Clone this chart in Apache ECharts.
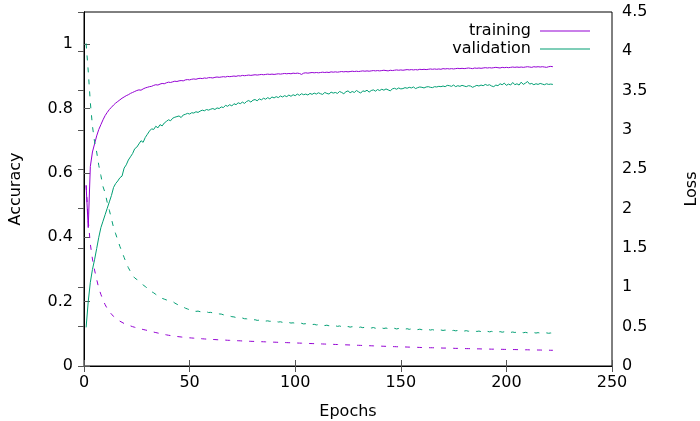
<!DOCTYPE html>
<html>
<head>
<meta charset="utf-8">
<script src="https://cdn.jsdelivr.net/npm/echarts@6/dist/echarts.min.js"></script>
<style>
  html, body { margin: 0; padding: 0; background: #fff; }
  #ch1 { width: 700px; height: 421px; }
</style>
</head>
<body>
<div id="ch1"></div>
<script>
var xTicks = [0, 50, 100, 150, 200, 250];
var accTicks = [0, 0.2, 0.4, 0.6, 0.8, 1];
var lossTicks = [0, 0.5, 1, 1.5, 2, 2.5, 3, 3.5, 4, 4.5];

// accuracy per epoch (epoch 1..222)
var trainAcc = [
  0.56, 0.43, 0.62, 0.665, 0.69, 0.715, 0.735, 0.75, 0.765, 0.778,
  0.788, 0.797, 0.804, 0.811, 0.817, 0.822, 0.827, 0.832, 0.836, 0.840,
  0.843, 0.847, 0.850, 0.853, 0.856, 0.858, 0.857, 0.861, 0.864, 0.866,
  0.868, 0.869, 0.872, 0.874, 0.873, 0.876, 0.878, 0.877, 0.880, 0.882,
  0.881, 0.883, 0.885, 0.884, 0.886, 0.887, 0.886, 0.889, 0.890, 0.889,
  0.891, 0.892, 0.891, 0.893, 0.894, 0.893, 0.895, 0.894, 0.896, 0.896,
  0.895, 0.897, 0.898, 0.897, 0.898, 0.899, 0.898, 0.900, 0.899, 0.900,
  0.901, 0.900, 0.902, 0.901, 0.903, 0.902, 0.903, 0.904, 0.903, 0.904,
  0.905, 0.904, 0.905, 0.906, 0.905, 0.906, 0.907, 0.906, 0.907, 0.906,
  0.907, 0.908, 0.907, 0.908, 0.909, 0.908, 0.909, 0.908, 0.910, 0.909,
  0.910, 0.909, 0.906, 0.910, 0.911, 0.910, 0.911, 0.912, 0.911, 0.912,
  0.911, 0.912, 0.913, 0.912, 0.913, 0.912, 0.914, 0.913, 0.914, 0.913,
  0.914, 0.915, 0.914, 0.915, 0.914, 0.915, 0.916, 0.915, 0.916, 0.915,
  0.916, 0.917, 0.916, 0.917, 0.916, 0.917, 0.918, 0.917, 0.918, 0.917,
  0.918, 0.919, 0.918, 0.917, 0.919, 0.918, 0.919, 0.920, 0.919, 0.920,
  0.919, 0.920, 0.921, 0.920, 0.921, 0.920, 0.921, 0.920, 0.922, 0.921,
  0.922, 0.921, 0.922, 0.923, 0.922, 0.923, 0.922, 0.923, 0.922, 0.924,
  0.923, 0.924, 0.923, 0.924, 0.923, 0.924, 0.925, 0.924, 0.925, 0.924,
  0.925, 0.926, 0.925, 0.924, 0.926, 0.925, 0.926, 0.925, 0.926, 0.927,
  0.926, 0.927, 0.926, 0.927, 0.928, 0.927, 0.926, 0.928, 0.927, 0.928,
  0.927, 0.928, 0.929, 0.928, 0.929, 0.928, 0.929, 0.928, 0.929, 0.930,
  0.929, 0.928, 0.930, 0.929, 0.930, 0.929, 0.930, 0.929, 0.928, 0.930,
  0.931, 0.930
];
var valAcc = [
  0.12, 0.20, 0.26, 0.30, 0.33, 0.365, 0.40, 0.43, 0.45, 0.47,
  0.49, 0.51, 0.53, 0.555, 0.567, 0.575, 0.585, 0.59, 0.615, 0.625,
  0.64, 0.65, 0.66, 0.675, 0.68, 0.69, 0.70, 0.695, 0.71, 0.72,
  0.73, 0.737, 0.735, 0.745, 0.74, 0.75, 0.746, 0.755, 0.76, 0.765,
  0.762, 0.77, 0.773, 0.775, 0.777, 0.772, 0.78, 0.782, 0.785, 0.783,
  0.787, 0.786, 0.79, 0.788, 0.792, 0.795, 0.793, 0.797, 0.795, 0.798,
  0.80, 0.797, 0.802, 0.80, 0.805, 0.803, 0.81, 0.807, 0.812, 0.808,
  0.815, 0.812, 0.818, 0.815, 0.82, 0.816, 0.822, 0.825, 0.82, 0.826,
  0.828, 0.824, 0.83, 0.827, 0.832, 0.829, 0.834, 0.83, 0.836, 0.833,
  0.837, 0.834, 0.839, 0.836, 0.84, 0.837, 0.842, 0.838, 0.843, 0.84,
  0.845, 0.841, 0.846, 0.843, 0.845, 0.842, 0.847, 0.844, 0.848, 0.845,
  0.849, 0.846, 0.844, 0.85, 0.847, 0.845, 0.851, 0.848, 0.85, 0.847,
  0.853, 0.85, 0.846, 0.852, 0.855, 0.849, 0.853, 0.85, 0.856, 0.852,
  0.848, 0.855, 0.853, 0.857, 0.851, 0.856, 0.858, 0.854, 0.859, 0.856,
  0.86, 0.857, 0.861, 0.858, 0.855, 0.861, 0.863, 0.86, 0.864, 0.861,
  0.862, 0.865, 0.863, 0.866, 0.864, 0.867, 0.862, 0.865, 0.867, 0.866,
  0.864, 0.867, 0.868, 0.866, 0.865, 0.868, 0.867, 0.869, 0.868, 0.87,
  0.868, 0.872, 0.871, 0.869, 0.873, 0.868, 0.871, 0.869, 0.872, 0.87,
  0.868, 0.871, 0.87, 0.866, 0.869, 0.872, 0.87, 0.873, 0.871, 0.875,
  0.872, 0.874, 0.87, 0.868, 0.873, 0.871, 0.877, 0.874, 0.879, 0.872,
  0.876, 0.873, 0.881, 0.874, 0.877, 0.873, 0.882, 0.875, 0.879, 0.884,
  0.876, 0.878, 0.874, 0.877, 0.875, 0.878, 0.876, 0.874, 0.877, 0.875,
  0.876, 0.875
];

// loss per epoch (right axis)
var trainLoss = [
  2.3, 1.85, 1.55, 1.36, 1.22, 1.1, 0.99, 0.91, 0.84, 0.78,
  0.73, 0.69, 0.66, 0.63, 0.605, 0.585, 0.57, 0.555, 0.54, 0.53,
  0.52, 0.51, 0.50, 0.492, 0.484, 0.477, 0.47, 0.464, 0.458, 0.452,
  0.445, 0.438, 0.431, 0.425, 0.419, 0.413, 0.407, 0.401, 0.396, 0.391,
  0.387, 0.383, 0.379, 0.375, 0.372, 0.369, 0.366, 0.363, 0.36, 0.358,
  0.356, 0.354, 0.352, 0.35, 0.348, 0.346, 0.344, 0.342, 0.341, 0.339,
  0.337, 0.336, 0.334, 0.333, 0.331, 0.33, 0.329, 0.327, 0.326, 0.325,
  0.323, 0.322, 0.321, 0.32, 0.318, 0.317, 0.316, 0.315, 0.314, 0.313,
  0.312, 0.311, 0.31, 0.309, 0.308, 0.307, 0.306, 0.305, 0.304, 0.303,
  0.302, 0.301, 0.3, 0.299, 0.298, 0.297, 0.296, 0.295, 0.294, 0.293,
  0.292, 0.291, 0.29, 0.289, 0.288, 0.287, 0.286, 0.285, 0.284, 0.283,
  0.282, 0.281, 0.28, 0.279, 0.278, 0.277, 0.276, 0.275, 0.274, 0.273,
  0.272, 0.271, 0.27, 0.269, 0.268, 0.267, 0.266, 0.265, 0.264, 0.263,
  0.262, 0.261, 0.26, 0.259, 0.258, 0.257, 0.256, 0.255, 0.254, 0.253,
  0.252, 0.251, 0.25, 0.249, 0.248, 0.247, 0.246, 0.245, 0.244, 0.243,
  0.242, 0.242, 0.241, 0.24, 0.239, 0.238, 0.238, 0.237, 0.236, 0.235,
  0.235, 0.234, 0.233, 0.232, 0.232, 0.231, 0.23, 0.23, 0.229, 0.228,
  0.228, 0.227, 0.226, 0.226, 0.225, 0.224, 0.224, 0.223, 0.222, 0.222,
  0.221, 0.221, 0.22, 0.219, 0.219, 0.218, 0.218, 0.217, 0.216, 0.216,
  0.215, 0.215, 0.214, 0.214, 0.213, 0.213, 0.212, 0.212, 0.211, 0.211,
  0.21, 0.21, 0.209, 0.209, 0.208, 0.208, 0.207, 0.207, 0.206, 0.206,
  0.205, 0.205, 0.204, 0.204, 0.203, 0.203, 0.202, 0.202, 0.201, 0.201,
  0.2, 0.2
];
var valLoss = [
  4.1, 3.75, 3.35, 3.05, 2.85, 2.72, 2.55, 2.42, 2.28, 2.2,
  2.08, 1.98, 1.87, 1.76, 1.68, 1.6, 1.52, 1.45, 1.38, 1.31,
  1.25, 1.2, 1.15, 1.12, 1.1, 1.07, 1.05, 1.03, 1.01, 0.99,
  0.965, 0.945, 0.93, 0.91, 0.89, 0.875, 0.86, 0.85, 0.84, 0.835,
  0.825, 0.82, 0.8, 0.785, 0.77, 0.76, 0.75, 0.735, 0.725, 0.715,
  0.705, 0.702, 0.694, 0.698, 0.69, 0.693, 0.686, 0.689, 0.68, 0.682,
  0.674, 0.676, 0.668, 0.662, 0.66, 0.651, 0.648, 0.638, 0.635, 0.627,
  0.624, 0.616, 0.618, 0.609, 0.61, 0.601, 0.6, 0.592, 0.593, 0.586,
  0.588, 0.58, 0.583, 0.576, 0.579, 0.571, 0.574, 0.568, 0.57, 0.563,
  0.566, 0.559, 0.562, 0.555, 0.558, 0.55, 0.553, 0.546, 0.549, 0.543,
  0.547, 0.539, 0.543, 0.535, 0.538, 0.53, 0.534, 0.526, 0.53, 0.522,
  0.526, 0.518, 0.523, 0.514, 0.519, 0.511, 0.515, 0.507, 0.512, 0.504,
  0.509, 0.5, 0.505, 0.497, 0.502, 0.494, 0.5, 0.492, 0.497, 0.489,
  0.495, 0.487, 0.493, 0.485, 0.49, 0.483, 0.489, 0.48, 0.486, 0.479,
  0.484, 0.477, 0.483, 0.475, 0.481, 0.473, 0.479, 0.471, 0.477, 0.47,
  0.476, 0.468, 0.474, 0.466, 0.472, 0.464, 0.47, 0.462, 0.468, 0.461,
  0.466, 0.459, 0.464, 0.457, 0.462, 0.455, 0.46, 0.453, 0.458, 0.452,
  0.457, 0.45, 0.455, 0.448, 0.453, 0.447, 0.452, 0.445, 0.45, 0.444,
  0.449, 0.442, 0.447, 0.44, 0.446, 0.439, 0.444, 0.437, 0.443, 0.436,
  0.441, 0.434, 0.44, 0.433, 0.438, 0.431, 0.437, 0.43, 0.435, 0.429,
  0.434, 0.427, 0.432, 0.426, 0.431, 0.424, 0.43, 0.423, 0.428, 0.422,
  0.427, 0.42, 0.425, 0.419, 0.424, 0.418, 0.422, 0.417, 0.421, 0.416,
  0.42, 0.415
];

var purple = '#9400d3';
var green = '#009e73';

function pairs(arr) {
  var out = [];
  for (var i = 0; i < arr.length; i++) out.push([i + 1, arr[i]]);
  return out;
}

window.onload = function() {
  var ch1 = echarts.init(document.getElementById('ch1'));
  var font = 'DejaVu Sans';
  var op1 = {
    animation: false,
    textStyle: { fontFamily: font },
    legend: {
      data: ['training', 'validation'],
      orient: 'vertical',
      right: 105,
      top: 17,
      align: 'right',
      icon: 'rect',
      itemWidth: 50,
      itemHeight: 1,
      itemGap: 0,
      textStyle: { fontSize: 16, color: '#000', fontFamily: font, width: 90, align: 'right', lineHeight: 18, padding: [0, 4, 0, 0] }
    },
    grid: {
      left: 84,
      right: 88,
      top: 12,
      bottom: 55,
      outerBoundsMode: 'none',
      show: true,
      borderColor: '#000',
      borderWidth: 1
    },
    xAxis: [{
      type: 'value',
      min: 0,
      max: 250,
      interval: 50,
      name: 'Epochs',
      nameLocation: 'middle',
      nameGap: 38,
      nameTextStyle: { fontSize: 16, color: '#000' },
      axisLine: { show: true, lineStyle: { color: '#000' } },
      axisTick: { show: true, inside: true, length: 6, lineStyle: { color: '#555' } },
      axisLabel: { fontSize: 16, color: '#000', margin: 9 },
      splitLine: { show: false }
    }, {
      type: 'value',
      position: 'top',
      min: 0,
      max: 250,
      interval: 50,
      axisLine: { show: true, lineStyle: { color: '#000' } },
      axisTick: { show: true, inside: true, length: 6, lineStyle: { color: '#555' } },
      axisLabel: { show: false },
      splitLine: { show: false }
    }],
    yAxis: [{
      type: 'value',
      min: 0,
      max: 1.1,
      name: 'Accuracy',
      nameLocation: 'middle',
      nameRotate: 90,
      nameGap: 60,
      nameTextStyle: { fontSize: 16, color: '#000' },
      axisLine: { show: true, lineStyle: { color: '#000' } },
      axisTick: { show: true, inside: true, length: 6, customValues: accTicks, lineStyle: { color: '#555' } },
      axisLabel: {
        fontSize: 16, color: '#000', margin: 11, customValues: accTicks,
        formatter: function(v) { return String(v); }
      },
      splitLine: { show: false }
    }, {
      type: 'value',
      position: 'right',
      min: 0,
      max: 4.5,
      interval: 0.5,
      name: 'Loss',
      nameLocation: 'middle',
      nameRotate: 90,
      nameGap: 72,
      nameTextStyle: { fontSize: 16, color: '#000' },
      axisLine: { show: true, lineStyle: { color: '#000' } },
      axisTick: { show: true, inside: true, length: 6, lineStyle: { color: '#555' } },
      axisLabel: {
        fontSize: 16, color: '#000', margin: 10,
        formatter: function(v) { return String(v); }
      },
      splitLine: { show: false }
    }],
    series: [{
      name: 'training',
      type: 'line',
      yAxisIndex: 0,
      symbol: 'none',
      data: pairs(trainAcc),
      lineStyle: { color: purple, width: 1 },
      itemStyle: { color: purple }
    }, {
      name: 'validation',
      type: 'line',
      yAxisIndex: 0,
      symbol: 'none',
      data: pairs(valAcc),
      lineStyle: { color: green, width: 1 },
      itemStyle: { color: green }
    }, {
      name: 'training loss',
      type: 'line',
      yAxisIndex: 1,
      symbol: 'none',
      data: pairs(trainLoss),
      lineStyle: { color: purple, width: 1, type: [5, 7] },
      itemStyle: { color: purple }
    }, {
      name: 'validation loss',
      type: 'line',
      yAxisIndex: 1,
      symbol: 'none',
      data: pairs(valLoss),
      lineStyle: { color: green, width: 1, type: [5, 7] },
      itemStyle: { color: green }
    }]
  };
  ch1.setOption(op1);
};
</script>
</body>
</html>
